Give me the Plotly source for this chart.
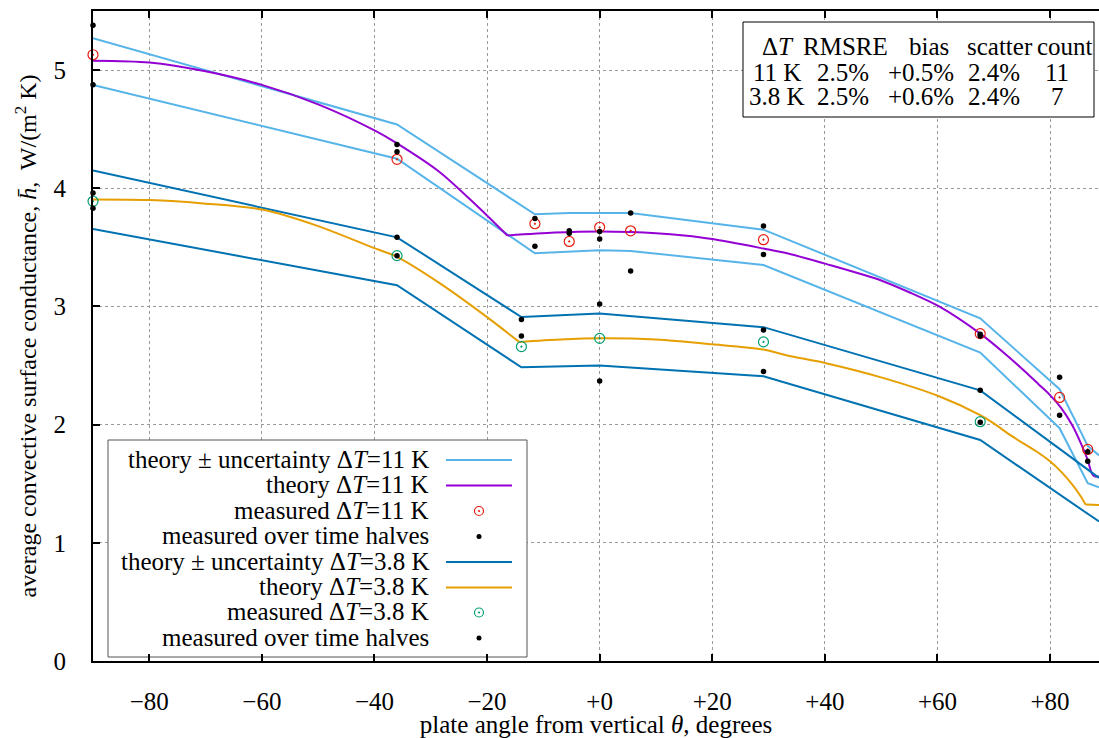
import plotly.graph_objects as go

# ---------------- data ----------------
# theory, dT = 11 K
theta_th11 = [-90, -80, -70, -60, -50, -40, -36, -28.5, -22, -16.4, -8, 0, 5.5, 10, 15, 20, 29.1, 33.3,
              40.2, 50, 55, 60.3, 67.6, 72, 76, 78, 80, 82, 84, 85.5, 86.7, 87.4, 87.9, 88.7]
h_th11 = [5.08, 5.065, 4.99, 4.875, 4.71, 4.49, 4.38, 4.14, 3.86, 3.60, 3.625, 3.635, 3.63, 3.62, 3.60, 3.57,
          3.49, 3.45, 3.36, 3.22, 3.12, 3.00, 2.77, 2.60, 2.43, 2.34, 2.25, 2.14, 1.99, 1.84, 1.70, 1.59,
          1.56, 1.56]
# theory +/- uncertainty, dT = 11 K
theta_band11 = [-90, -36, -11.5, -5.4, 0, 5.5, 29.1, 67.6, 81.7, 86.7, 88.7]
h_band11_hi = [5.27, 4.54, 3.78, 3.79, 3.79, 3.79, 3.65, 2.90, 2.30, 1.82, 1.74]
h_band11_lo = [4.875, 4.25, 3.45, 3.465, 3.475, 3.47, 3.35, 2.61, 1.97, 1.505, 1.47]
# measured, dT = 11 K
theta_m11 = [-90, -36, -11.5, -5.4, 0, 5.5, 29.1, 67.6, 81.7, 86.7]
h_m11 = [5.13, 4.245, 3.70, 3.55, 3.67, 3.64, 3.565, 2.77, 2.23, 1.79]
# measured over time halves, dT = 11 K
theta_half11 = [-90, -90, -36, -36, -11.5, -11.5, -5.4, -5.4, 0, 0, 5.5, 5.5, 29.1, 29.1,
                67.6, 67.6, 81.7, 81.7, 86.7, 86.7]
h_half11 = [5.38, 4.875, 4.37, 4.31, 3.745, 3.51, 3.64, 3.62, 3.635, 3.57, 3.79, 3.30, 3.68, 3.44,
            2.765, 2.75, 2.40, 2.08, 1.77, 1.69]

# theory, dT = 3.8 K
theta_th38 = [-90, -80, -70, -60, -50, -40.4, -36, -28.5, -20, -14.3, -7, 0, 10, 20, 29.1, 33.3,
              40.2, 50, 60.3, 67.6, 70, 73.3, 78, 80, 82, 84, 85.5, 86.3, 88.7]
h_th38 = [3.905, 3.90, 3.87, 3.82, 3.68, 3.50, 3.42, 3.20, 2.91, 2.70, 2.72, 2.73, 2.72, 2.68, 2.635, 2.585,
          2.52, 2.40, 2.24, 2.08, 2.01, 1.90, 1.76, 1.69, 1.60, 1.49, 1.39, 1.325, 1.32]
# theory +/- uncertainty, dT = 3.8 K
theta_band38 = [-90, -36, -13.9, 0, 29.1, 67.6, 88.7]
h_band38_hi = [4.15, 3.585, 2.91, 2.94, 2.825, 2.29, 1.55]
h_band38_lo = [3.655, 3.18, 2.485, 2.50, 2.41, 1.87, 1.18]
# measured, dT = 3.8 K
theta_m38 = [-90, -36, -13.9, 0, 29.1, 67.6]
h_m38 = [3.89, 3.43, 2.66, 2.73, 2.70, 2.025]
# measured over time halves, dT = 3.8 K
theta_half38 = [-90, -90, -36, -36, -13.9, -13.9, 0, 0, 29.1, 29.1, 67.6, 67.6]
h_half38 = [3.96, 3.83, 3.585, 3.43, 2.89, 2.75, 3.02, 2.37, 2.80, 2.45, 2.29, 2.02]

# axis ticks
x_tickvals = [-80, -60, -40, -20, 0, 20, 40, 60, 80]
x_ticktext = ["\u221280", "\u221260", "\u221240", "\u221220", "+0", "+20", "+40", "+60", "+80"]
y_tickvals = [0, 1, 2, 3, 4, 5]
y_ticktext = ["0", "1", "2", "3", "4", "5"]

# statistics table
table_header = ["\u0394<i>T</i>", "RMSRE", "bias", "scatter", "count"]
table_row11 = ["11 K", "2.5%", "+0.5%", "2.4%", "11"]
table_row38 = ["3.8 K", "2.5%", "+0.6%", "2.4%", "7"]

legend_labels = [
    "theory \u00b1 uncertainty \u0394<i>T</i>=11 K",
    "theory \u0394<i>T</i>=11 K",
    "measured \u0394<i>T</i>=11 K",
    "measured over time halves",
    "theory \u00b1 uncertainty \u0394<i>T</i>=3.8 K",
    "theory \u0394<i>T</i>=3.8 K",
    "measured \u0394<i>T</i>=3.8 K",
    "measured over time halves",
]

# ---------------- styles ----------------
C_SKY = "#56b4e9"
C_VIOLET = "#9400d3"
C_RED = "#e51e10"
C_BLUE = "#0072b2"
C_ORANGE = "#e69f00"
C_GREEN = "#009e73"
FONT = "Liberation Serif"
FS = 25
FS_Y = 24

W, H = 1099, 738
ML, MR, MT, MB = 93, 0, 11, 77
X_RANGE = [-90, 88.7]
Y_RANGE = [0, 5.5]

# convert page-pixel layout positions (for key and table) into axis units
def px_x(p):
    return X_RANGE[0] + (p - ML) * (X_RANGE[1] - X_RANGE[0]) / (W - ML - MR)

def px_y(p):
    return Y_RANGE[0] + (H - MB - p) * (Y_RANGE[1] - Y_RANGE[0]) / (H - MT - MB)

fig = go.Figure()

def line(x, y, color, shape="linear"):
    fig.add_trace(go.Scatter(x=x, y=y, mode="lines", line=dict(color=color, width=2, shape=shape,
                                                               smoothing=0.8),
                             showlegend=False, hoverinfo="skip", cliponaxis=False))

def circles(x, y, color, size=10):
    fig.add_trace(go.Scatter(x=x, y=y, mode="markers", showlegend=False, cliponaxis=False,
                             marker=dict(symbol="circle-open-dot", size=size, color=color,
                                         line=dict(width=1.2, color=color))))

def dots(x, y, size=5.5):
    fig.add_trace(go.Scatter(x=x, y=y, mode="markers", showlegend=False, cliponaxis=False,
                             marker=dict(symbol="circle", size=size, color="black")))

def theory(x, y, color, kink_x, flat_x):
    # smooth pieces separated by the kink and by the final flat part
    i1 = x.index(kink_x)
    i2 = x.index(flat_x)
    line(x[:i1 + 1], y[:i1 + 1], color, "spline")
    line(x[i1:i2 + 1], y[i1:i2 + 1], color, "spline")
    line(x[i2:], y[i2:], color)

line(theta_band11, h_band11_hi, C_SKY)
line(theta_band11, h_band11_lo, C_SKY)
theory(theta_th11, h_th11, C_VIOLET, -16.4, 87.9)
circles(theta_m11, h_m11, C_RED)
dots(theta_half11, h_half11)
line(theta_band38, h_band38_hi, C_BLUE)
line(theta_band38, h_band38_lo, C_BLUE)
theory(theta_th38, h_th38, C_ORANGE, -14.3, 86.3)
circles(theta_m38, h_m38, C_GREEN)
dots(theta_half38, h_half38)

# ---------------- key (legend) ----------------
key_x0, key_x1, key_y0, key_y1 = 108, 527, 440, 657
key_text_right = 431
key_sample_x0, key_sample_x1 = 446, 512
key_rows = [460, 485.5, 511, 536.5, 562, 587.5, 612.5, 638]
key_kinds = [("line", C_SKY), ("line", C_VIOLET), ("circle", C_RED), ("dot", "black"),
             ("line", C_BLUE), ("line", C_ORANGE), ("circle", C_GREEN), ("dot", "black")]

shapes = []
annotations = []
shapes.append(dict(type="rect", xref="x", yref="y", x0=px_x(key_x0), x1=px_x(key_x1),
                   y0=px_y(key_y1), y1=px_y(key_y0),
                   line=dict(color="#555555", width=1), fillcolor="white", layer="between"))
cx = px_x((key_sample_x0 + key_sample_x1) / 2)
for lab, yy, (kind, col) in zip(legend_labels, key_rows, key_kinds):
    annotations.append(dict(xref="x", yref="y", x=px_x(key_text_right), y=px_y(yy - 1), text=lab,
                            showarrow=False, xanchor="right", yanchor="middle",
                            font=dict(family=FONT, size=FS, color="black")))
    if kind == "line":
        shapes.append(dict(type="line", xref="x", yref="y", x0=px_x(key_sample_x0), x1=px_x(key_sample_x1),
                           y0=px_y(yy), y1=px_y(yy), line=dict(color=col, width=2), layer="above"))
    elif kind == "circle":
        circles([cx], [px_y(yy)], col, size=9)
    else:
        dots([cx], [px_y(yy)], size=5)

# ---------------- statistics table ----------------
tab_x0, tab_x1, tab_y0, tab_y1 = 743, 1094, 22, 117
shapes.append(dict(type="rect", xref="x", yref="y", x0=px_x(tab_x0), x1=px_x(tab_x1),
                   y0=px_y(tab_y1), y1=px_y(tab_y0),
                   line=dict(color="black", width=1), fillcolor="white", layer="between"))
col_header = [777.5, 845, 929, 1000, 1065]
col_rows = [777, 842.5, 920.5, 994, 1057]
row_y = [46, 72, 96]
for txt, xx in zip(table_header, col_header):
    annotations.append(dict(xref="x", yref="y", x=px_x(xx), y=px_y(row_y[0]), text=txt, showarrow=False,
                            xanchor="center", yanchor="middle", font=dict(family=FONT, size=FS, color="black")))
for row, yy in zip([table_row11, table_row38], row_y[1:]):
    for txt, xx in zip(row, col_rows):
        annotations.append(dict(xref="x", yref="y", x=px_x(xx), y=px_y(yy), text=txt, showarrow=False,
                                xanchor="center", yanchor="middle",
                                font=dict(family=FONT, size=FS, color="black")))

axis_font = dict(family=FONT, size=FS, color="black")
fig.update_layout(
    width=W, height=H,
    margin=dict(l=ML, r=MR, t=MT, b=MB, pad=0, autoexpand=False),
    paper_bgcolor="white", plot_bgcolor="white",
    showlegend=False,
    font=dict(family=FONT, size=FS, color="black"),
    xaxis=dict(range=X_RANGE, tickvals=x_tickvals, ticktext=x_ticktext, tickfont=axis_font,
               showgrid=True, gridcolor="#9a9a9a", griddash="dot", gridwidth=1,
               showline=True, linecolor="black", linewidth=2, mirror="ticks",
               ticks="inside", ticklen=7, tickwidth=1.5, tickcolor="black", zeroline=False,
               ticklabelstandoff=17, automargin=False,
               title=dict(text="plate angle from vertical <i>\u03b8</i>, degrees", font=axis_font, standoff=1)),
    yaxis=dict(range=Y_RANGE, tickvals=y_tickvals, ticktext=y_ticktext, tickfont=axis_font,
               showgrid=True, gridcolor="#9a9a9a", griddash="dot", gridwidth=1,
               showline=True, linecolor="black", linewidth=2, mirror=False,
               ticks="inside", ticklen=7, tickwidth=1.5, tickcolor="black", zeroline=False,
               ticklabelstandoff=20, automargin=False,
               title=dict(text="average convective surface conductance, <i>h\u0304</i>,  W/(m<sup>2</sup> K)",
                          font=dict(family=FONT, size=FS_Y, color="black"), standoff=10)),
    shapes=shapes,
    annotations=annotations,
)

# the page's default 8 px body margin would shift the figure; remove it
fig.write_html("out.html", config={"displayModeBar": False},
               post_script="document.body.style.margin='0';document.body.style.overflow='hidden';")
